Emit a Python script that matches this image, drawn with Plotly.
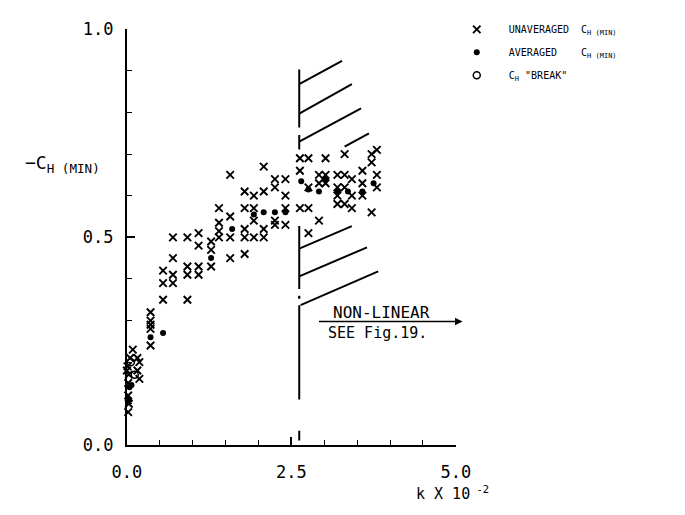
import plotly.graph_objects as go

W, H = 685, 515

# Unaveraged minimum hinge-moment readings (k x 10^-2, -C_H(min))
unavg_k = [0.00, 0.01, 0.03, 0.02, 0.02, 0.03, 0.02, 0.09, 0.16, 0.19, 0.16, 0.19, 0.05,
           0.36, 0.36, 0.36, 0.36, 0.36,
           0.55, 0.55, 0.55,
           0.70, 0.70, 0.70, 0.70,
           0.92, 0.92, 0.92, 0.92,
           1.09, 1.09, 1.09, 1.09,
           1.28, 1.28, 1.28,
           1.40, 1.40, 1.40, 1.40,
           1.57, 1.57, 1.57, 1.57,
           1.79, 1.79, 1.79, 1.79, 1.79,
           1.93, 1.93, 1.93, 1.93,
           2.08, 2.08, 2.08, 2.08,
           2.25, 2.25, 2.25, 2.25,
           2.41, 2.41, 2.41, 2.41,
           2.63, 2.63, 2.63,
           2.76, 2.76, 2.76, 2.76,
           2.92, 2.92, 2.92,
           3.02, 3.02, 3.02,
           3.20, 3.20, 3.20, 3.20,
           3.31, 3.31, 3.31, 3.31,
           3.42, 3.42, 3.42,
           3.58, 3.58, 3.58,
           3.72, 3.72, 3.72,
           3.80, 3.80, 3.80]
unavg_ch = [0.18, 0.19, 0.17, 0.15, 0.12, 0.10, 0.08, 0.23, 0.21, 0.20, 0.18, 0.16, 0.21,
            0.32, 0.30, 0.29, 0.28, 0.24,
            0.42, 0.39, 0.35,
            0.50, 0.45, 0.41, 0.39,
            0.50, 0.43, 0.41, 0.35,
            0.51, 0.48, 0.43, 0.41,
            0.49, 0.47, 0.43,
            0.57, 0.535, 0.515, 0.50,
            0.65, 0.55, 0.50, 0.45,
            0.61, 0.57, 0.52, 0.50, 0.46,
            0.60, 0.57, 0.54, 0.50,
            0.67, 0.61, 0.52, 0.50,
            0.64, 0.62, 0.54, 0.53,
            0.64, 0.60, 0.57, 0.53,
            0.69, 0.66, 0.57,
            0.69, 0.62, 0.57, 0.51,
            0.65, 0.63, 0.54,
            0.69, 0.65, 0.63,
            0.65, 0.62, 0.60, 0.58,
            0.70, 0.65, 0.62, 0.58,
            0.64, 0.60, 0.57,
            0.66, 0.63, 0.60,
            0.70, 0.68, 0.56,
            0.71, 0.65, 0.62]

# Averaged minimum hinge-moment values
avg_k = [0.04, 0.07, 0.03, 0.36, 0.55, 1.28, 1.60, 1.93, 2.08, 2.25, 2.41,
         2.65, 2.76, 2.92, 3.02, 3.20, 3.36, 3.58, 3.75]
avg_ch = [0.14, 0.145, 0.11, 0.26, 0.27, 0.45, 0.52, 0.555, 0.56, 0.56, 0.56,
          0.635, 0.615, 0.61, 0.64, 0.61, 0.61, 0.61, 0.63]

# Hinge-moment "break" points
brk_k = [0.06, 0.12]
brk_ch = [0.20, 0.17]

x_tick_vals = [0.0, 2.5, 5.0]
x_tick_text = ["0.0", "2.5", "5.0"]
y_tick_vals = [0.0, 0.5, 1.0]
y_tick_text = ["0.0", "0.5", "1.0"]

# Boundary of the linear range (hatched line)
bound_k = 2.62
bound_vertical = [(0.903, 0.764), (0.746, 0.711), (0.527, 0.376), (0.337, 0.11),
                  (0.035, 0.012)]
bound_hatch = [((2.62, 0.868), (3.27, 0.924)),
               ((2.62, 0.797), (3.42, 0.868)),
               ((2.62, 0.730), (3.56, 0.810)),
               ((3.31, 0.718), (3.68, 0.750)),
               ((2.62, 0.473), (3.42, 0.527)),
               ((2.62, 0.406), (3.65, 0.476)),
               ((2.64, 0.337), (3.82, 0.418))]

FONT = "DejaVu Sans Mono"
INK = "black"
NB = "\u00a0"

# plot area in pixels
X0, X1 = 117, 461
Y0, Y1 = 453, 20

fig = go.Figure()

fig.add_trace(go.Scatter(
    x=unavg_k, y=unavg_ch, mode="markers", cliponaxis=False,
    name=NB * 2 + "UNAVERAGED" + NB * 2 + "C<sub>H (MIN)</sub>", legendgroup="a",
    marker=dict(symbol="x-thin", size=7.5, line=dict(width=1.9, color=INK), color=INK)))
fig.add_trace(go.Scatter(
    x=avg_k, y=avg_ch, mode="markers", cliponaxis=False,
    name=NB * 2 + "AVERAGED" + NB * 4 + "C<sub>H (MIN)</sub>", legendgroup="b",
    marker=dict(symbol="circle", size=6, color=INK)))
fig.add_trace(go.Scatter(
    x=brk_k, y=brk_ch, mode="markers", cliponaxis=False,
    name=NB * 2 + "C<sub>H</sub> \"BREAK\"", legendgroup="c",
    marker=dict(symbol="circle-open", size=7, line=dict(width=1.5, color=INK), color=INK)))

shapes = []
for top, bot in bound_vertical:
    shapes.append(dict(type="line", xref="x", yref="y", x0=bound_k, x1=bound_k, y0=top, y1=bot,
                       line=dict(color=INK, width=2)))
for (xa, ya), (xb, yb) in bound_hatch:
    shapes.append(dict(type="line", xref="x", yref="y", x0=xa, y0=ya, x1=xb, y1=yb,
                       line=dict(color=INK, width=2)))
shapes.append(dict(type="circle", xref="x", yref="y", x0=bound_k - 0.02, x1=bound_k + 0.02,
                   y0=0.352, y1=0.360, fillcolor=INK, line=dict(width=0)))

annotations = [
    dict(text="\u2212C<sub>H (MIN)</sub>", xref="paper", yref="paper",
         x=8 / W, y=1 - 160 / H, xanchor="left", yanchor="middle", showarrow=False,
         font=dict(family=FONT, size=18, color=INK)),
    dict(text="k X 10<sup> -2</sup>", xref="paper", yref="paper",
         x=458 / W, y=1 - 503 / H, xanchor="center", yanchor="middle", showarrow=False,
         font=dict(family=FONT, size=15, color=INK)),
    dict(text="NON-LINEAR", xref="x", yref="y", x=3.1, y=0.319,
         xanchor="left", yanchor="middle", showarrow=False,
         font=dict(family=FONT, size=16, color=INK)),
    dict(text="SEE Fig.19.", xref="x", yref="y", x=3.02, y=0.27,
         xanchor="left", yanchor="middle", showarrow=False,
         font=dict(family=FONT, size=15, color=INK)),
    dict(text="", xref="paper", yref="paper", x=468 / W, y=1 - 324 / H,
         ax=-145, ay=0, showarrow=True, arrowhead=2, arrowsize=1, arrowwidth=1.5,
         arrowcolor=INK),
]

fig.update_layout(
    width=W, height=H,
    margin=dict(l=0, r=0, t=0, b=0),
    paper_bgcolor="white", plot_bgcolor="white",
    font=dict(family=FONT, color=INK),
    shapes=shapes, annotations=annotations,
    showlegend=True,
    legend=dict(x=462 / W, y=1 - 5 / H, xanchor="left", yanchor="top",
                font=dict(family=FONT, size=10, color=INK),
                traceorder="grouped", tracegroupgap=4,
                bgcolor="rgba(0,0,0,0)", itemsizing="trace"),
    xaxis=dict(domain=[X0 / W, X1 / W], range=[0, 5], showgrid=False, zeroline=False,
               showline=True, linecolor=INK, linewidth=2,
               tickvals=x_tick_vals, ticktext=x_tick_text,
               ticks="inside", ticklen=8, tickwidth=1.5, tickcolor=INK,
               minor=dict(dtick=0.5, tick0=0, ticks="inside", ticklen=5, tickwidth=1.2, tickcolor=INK),
               tickfont=dict(family=FONT, size=17, color=INK), ticklabelstandoff=10),
    yaxis=dict(domain=[(H - Y0) / H, (H - Y1) / H], range=[0, 1], showgrid=False, zeroline=False,
               showline=True, linecolor=INK, linewidth=2,
               tickvals=y_tick_vals, ticktext=y_tick_text,
               ticks="inside", ticklen=8, tickwidth=1.5, tickcolor=INK,
               minor=dict(dtick=0.1, tick0=0, ticks="inside", ticklen=5, tickwidth=1.2, tickcolor=INK),
               tickfont=dict(family=FONT, size=17, color=INK), ticklabelstandoff=8),
)

fig.write_html("out.html")
